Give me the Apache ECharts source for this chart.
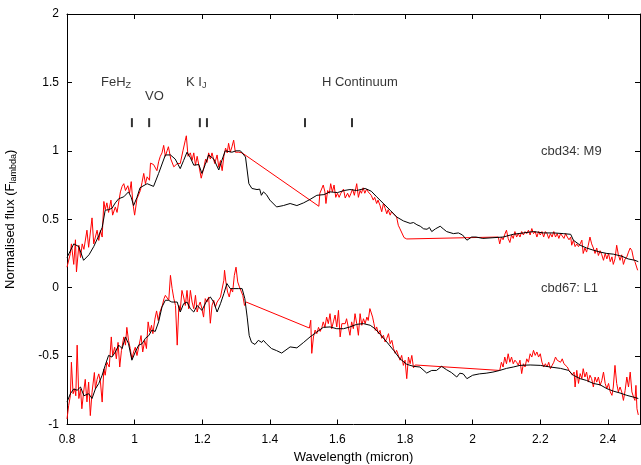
<!DOCTYPE html>
<html>
<head>
<meta charset="utf-8">
<script src="https://cdn.jsdelivr.net/npm/echarts@6/dist/echarts.min.js"></script>
<style>
  html, body { margin: 0; padding: 0; background: #fff; }
  #c { width: 641px; height: 465px; }
</style>
</head>
<body>
<div id="c"></div>
<script>
// Axis ticks
const xTicks = [0.8, 1.0, 1.2, 1.4, 1.6, 1.8, 2.0, 2.2, 2.4];
const yTicks = [-1, -0.5, 0, 0.5, 1, 1.5, 2];

// cbd34 (M9): template spectrum [wavelength micron, normalised flux]
const m9Model = [
  [0.80,0.22],[0.82,0.32],[0.835,0.30],[0.849,0.20],[0.865,0.24],[0.879,0.30],[0.894,0.38],[0.904,0.44],
  [0.913,0.566],[0.923,0.57],[0.933,0.58],[0.943,0.62],[0.953,0.65],[0.968,0.664],[0.982,0.70],[0.99,0.66],
  [0.997,0.60],[1.007,0.66],[1.016,0.73],[1.037,0.76],[1.056,0.74],[1.071,0.835],[1.091,0.97],[1.106,0.97],
  [1.12,0.94],[1.135,0.87],[1.145,0.93],[1.155,0.99],[1.165,0.95],[1.175,0.895],[1.19,0.90],[1.199,0.835],
  [1.209,0.90],[1.219,0.97],[1.234,0.94],[1.249,0.86],[1.258,0.93],[1.268,1.0],[1.288,0.99],[1.30,1.0],
  [1.313,1.0],[1.328,0.955],[1.338,0.76],[1.347,0.725],[1.362,0.717],[1.37,0.72],[1.375,0.675],[1.381,0.70],
  [1.39,0.68],[1.40,0.64],[1.42,0.59],[1.44,0.60],[1.46,0.615],[1.48,0.60],[1.50,0.62],[1.519,0.645],
  [1.539,0.675],[1.56,0.68],[1.578,0.70],[1.60,0.695],[1.62,0.71],[1.637,0.717],[1.657,0.71],[1.682,0.725],
  [1.70,0.705],[1.716,0.664],[1.736,0.615],[1.756,0.566],[1.775,0.517],[1.795,0.488],[1.815,0.47],[1.825,0.476],
  [1.835,0.46],[1.845,0.449],[1.855,0.43],[1.865,0.427],[1.872,0.44],[1.879,0.41],[1.89,0.43],[1.904,0.449],
  [1.913,0.43],[1.923,0.41],[1.943,0.395],[1.958,0.40],[1.97,0.385],[1.983,0.347],[1.997,0.37],[2.01,0.37],
  [2.03,0.36],[2.06,0.365],[2.09,0.37],[2.12,0.39],[2.15,0.40],[2.18,0.41],[2.21,0.40],[2.24,0.40],
  [2.268,0.395],[2.29,0.39],[2.298,0.347],[2.318,0.31],[2.337,0.29],[2.357,0.274],[2.377,0.26],[2.397,0.25],
  [2.416,0.245],[2.441,0.23],[2.46,0.21],[2.48,0.20],[2.49,0.19]
];

// cbd34 (M9): observed spectrum
const m9Spectrum = [
  [0.80,0.15],[0.81,0.25],[0.813,0.32],[0.82,0.17],[0.825,0.35],[0.828,0.115],[0.835,0.31],[0.84,0.22],
  [0.845,0.32],[0.85,0.28],[0.859,0.42],[0.864,0.295],[0.874,0.51],[0.879,0.32],[0.884,0.37],[0.889,0.42],
  [0.894,0.345],[0.899,0.42],[0.904,0.37],[0.909,0.63],[0.913,0.57],[0.918,0.62],[0.923,0.55],[0.93,0.64],
  [0.935,0.53],[0.943,0.59],[0.948,0.55],[0.958,0.70],[0.963,0.74],[0.968,0.76],[0.973,0.71],[0.98,0.745],
  [0.985,0.69],[0.99,0.775],[0.995,0.615],[1.0,0.53],[1.007,0.65],[1.017,0.71],[1.022,0.77],[1.027,0.835],
  [1.032,0.76],[1.037,0.81],[1.044,0.785],[1.047,0.91],[1.056,0.90],[1.066,0.855],[1.071,0.92],[1.076,0.96],
  [1.081,0.985],[1.086,1.04],[1.091,0.96],[1.096,1.0],[1.10,1.03],[1.107,0.94],[1.116,0.883],[1.126,0.907],
  [1.135,0.907],[1.143,1.0],[1.15,1.078],[1.153,1.11],[1.158,0.96],[1.165,0.985],[1.17,0.93],[1.175,0.985],
  [1.18,0.895],[1.185,0.96],[1.19,0.895],[1.197,0.80],[1.205,0.88],[1.21,0.94],[1.214,0.915],[1.219,0.985],
  [1.224,0.94],[1.229,0.985],[1.237,0.907],[1.244,0.97],[1.249,0.88],[1.254,0.93],[1.259,0.855],[1.264,0.96],
  [1.269,1.02],[1.274,0.985],[1.278,1.055],[1.283,0.99],[1.288,1.03],[1.293,1.078],[1.298,0.99],[1.308,0.99],
  [1.318,0.985],[1.323,0.99],
  [1.545,0.595],[1.548,0.69],[1.551,0.68],[1.558,0.75],[1.563,0.70],[1.566,0.615],[1.571,0.71],[1.576,0.69],
  [1.58,0.76],[1.585,0.70],[1.59,0.75],[1.595,0.66],[1.60,0.69],[1.605,0.66],[1.61,0.69],[1.618,0.72],
  [1.623,0.655],[1.63,0.69],[1.635,0.66],[1.64,0.69],[1.645,0.72],[1.65,0.675],[1.657,0.76],[1.662,0.66],
  [1.667,0.71],[1.671,0.69],[1.676,0.73],[1.681,0.69],[1.686,0.72],[1.691,0.70],[1.696,0.71],[1.70,0.675],
  [1.706,0.64],[1.71,0.66],[1.716,0.615],[1.72,0.64],[1.726,0.60],[1.731,0.555],[1.736,0.615],[1.741,0.58],
  [1.746,0.54],[1.75,0.57],[1.756,0.53],[1.76,0.555],[1.766,0.54],[1.775,0.517],[1.78,0.456],[1.785,0.43],
  [1.79,0.42],[1.797,0.366],[1.805,0.356],
  [2.076,0.37],[2.08,0.32],[2.085,0.37],[2.09,0.35],[2.095,0.39],[2.10,0.42],[2.105,0.36],[2.11,0.33],
  [2.115,0.385],[2.12,0.36],[2.125,0.41],[2.13,0.37],[2.135,0.395],[2.14,0.37],[2.145,0.41],[2.15,0.385],
  [2.155,0.41],[2.16,0.395],[2.165,0.42],[2.17,0.385],[2.175,0.432],[2.18,0.395],[2.185,0.41],[2.19,0.37],
  [2.195,0.41],[2.20,0.385],[2.205,0.41],[2.21,0.37],[2.215,0.41],[2.22,0.395],[2.225,0.36],[2.23,0.395],
  [2.235,0.37],[2.24,0.41],[2.245,0.37],[2.25,0.395],[2.255,0.36],[2.26,0.395],[2.265,0.385],[2.27,0.36],
  [2.275,0.395],[2.28,0.37],[2.285,0.35],[2.29,0.37],[2.293,0.31],[2.298,0.347],[2.303,0.30],[2.308,0.32],
  [2.313,0.30],[2.318,0.32],[2.323,0.347],[2.327,0.25],[2.332,0.29],[2.337,0.26],[2.342,0.31],[2.347,0.37],
  [2.352,0.32],[2.357,0.29],[2.362,0.25],[2.367,0.29],[2.372,0.235],[2.377,0.27],[2.382,0.24],[2.387,0.20],
  [2.392,0.25],[2.397,0.21],[2.402,0.25],[2.407,0.19],[2.412,0.225],[2.416,0.17],[2.421,0.21],[2.426,0.31],
  [2.431,0.24],[2.436,0.20],[2.441,0.24],[2.446,0.17],[2.451,0.21],[2.456,0.225],[2.461,0.26],[2.466,0.29],
  [2.471,0.27],[2.476,0.21],[2.48,0.19],[2.485,0.19],[2.488,0.127]
];

// cbd67 (L1): template spectrum
const l1Model = [
  [0.80,-0.836],[0.81,-0.775],[0.82,-0.74],[0.83,-0.75],[0.84,-0.726],[0.85,-0.79],[0.864,-0.775],[0.874,-0.81],
  [0.884,-0.74],[0.894,-0.70],[0.904,-0.64],[0.913,-0.568],[0.923,-0.495],[0.933,-0.507],[0.943,-0.47],[0.953,-0.42],
  [0.963,-0.445],[0.973,-0.36],[0.982,-0.41],[0.992,-0.53],[1.002,-0.47],[1.012,-0.42],[1.022,-0.41],[1.032,-0.37],
  [1.042,-0.35],[1.051,-0.31],[1.061,-0.32],[1.071,-0.25],[1.081,-0.141],[1.091,-0.092],[1.10,-0.092],[1.11,-0.105],
  [1.126,-0.105],[1.135,-0.178],[1.145,-0.117],[1.155,-0.105],[1.165,-0.154],[1.175,-0.178],[1.185,-0.13],[1.199,-0.166],
  [1.214,-0.092],[1.224,-0.068],[1.234,-0.105],[1.244,-0.178],[1.254,-0.117],[1.264,-0.044],[1.273,0.03],[1.283,-0.007],
  [1.293,-0.007],[1.308,-0.007],[1.318,-0.007],[1.326,-0.08],[1.333,-0.215],[1.339,-0.35],[1.346,-0.40],[1.356,-0.415],
  [1.366,-0.385],[1.376,-0.40],[1.381,-0.385],[1.39,-0.41],[1.405,-0.445],[1.42,-0.46],[1.435,-0.478],[1.44,-0.478],
  [1.46,-0.433],[1.48,-0.44],[1.50,-0.40],[1.519,-0.36],[1.539,-0.324],[1.558,-0.29],[1.578,-0.287],[1.598,-0.30],
  [1.618,-0.30],[1.637,-0.287],[1.657,-0.268],[1.677,-0.263],[1.697,-0.275],[1.711,-0.30],[1.726,-0.34],[1.746,-0.397],
  [1.766,-0.458],[1.785,-0.52],[1.805,-0.56],[1.825,-0.575],[1.844,-0.58],[1.864,-0.624],[1.879,-0.605],[1.893,-0.605],
  [1.908,-0.575],[1.923,-0.60],[1.937,-0.62],[1.953,-0.653],[1.962,-0.625],[1.972,-0.63],[1.983,-0.665],[2.0,-0.64],
  [2.02,-0.63],[2.04,-0.625],[2.06,-0.617],[2.08,-0.605],[2.10,-0.59],[2.12,-0.58],[2.14,-0.568],[2.17,-0.565],
  [2.20,-0.568],[2.23,-0.58],[2.26,-0.59],[2.283,-0.604],[2.298,-0.64],[2.318,-0.665],[2.337,-0.678],[2.357,-0.70],
  [2.377,-0.71],[2.397,-0.738],[2.416,-0.756],[2.436,-0.77],[2.456,-0.787],[2.476,-0.80],[2.49,-0.81]
];

// cbd67 (L1): observed spectrum
const l1Spectrum = [
  [0.80,-0.96],[0.805,-0.86],[0.81,-0.79],[0.813,-0.545],[0.818,-0.775],[0.823,-0.74],[0.826,-0.79],[0.83,-0.42],
  [0.835,-0.81],[0.84,-0.74],[0.844,-0.885],[0.849,-0.765],[0.854,-0.67],[0.859,-0.835],[0.864,-0.69],[0.869,-0.935],
  [0.874,-0.765],[0.881,-0.62],[0.884,-0.74],[0.889,-0.67],[0.894,-0.63],[0.899,-0.69],[0.904,-0.836],[0.909,-0.594],
  [0.913,-0.64],[0.918,-0.545],[0.925,-0.58],[0.931,-0.36],[0.935,-0.496],[0.941,-0.435],[0.946,-0.52],[0.951,-0.40],
  [0.956,-0.58],[0.961,-0.46],[0.968,-0.36],[0.973,-0.42],[0.977,-0.29],[0.982,-0.385],[0.987,-0.445],[0.992,-0.52],
  [0.997,-0.47],[1.002,-0.435],[1.007,-0.496],[1.012,-0.435],[1.019,-0.35],[1.024,-0.47],[1.03,-0.385],[1.035,-0.445],
  [1.04,-0.25],[1.045,-0.325],[1.05,-0.275],[1.054,-0.336],[1.06,-0.23],[1.065,-0.17],[1.07,-0.24],[1.075,-0.178],
  [1.082,-0.13],[1.087,-0.08],[1.091,-0.056],[1.096,-0.07],[1.101,-0.092],[1.106,0.09],[1.111,-0.007],[1.116,-0.08],
  [1.121,-0.13],[1.126,-0.42],[1.131,-0.13],[1.135,-0.166],[1.14,-0.02],[1.145,-0.068],[1.15,-0.13],[1.155,-0.02],
  [1.16,-0.154],[1.165,-0.02],[1.17,-0.105],[1.175,-0.154],[1.18,-0.056],[1.185,-0.178],[1.19,-0.13],[1.194,-0.105],
  [1.199,-0.154],[1.204,-0.215],[1.209,-0.08],[1.214,-0.105],[1.219,-0.068],[1.224,-0.26],[1.229,-0.13],[1.234,-0.092],
  [1.239,-0.141],[1.244,-0.105],[1.249,-0.117],[1.254,-0.068],[1.259,-0.056],[1.264,0.054],[1.266,0.127],[1.27,0.042],
  [1.275,-0.032],[1.28,-0.068],[1.285,-0.007],[1.29,-0.032],[1.295,0.09],[1.30,0.15],[1.305,0.042],[1.31,0.006],
  [1.315,-0.007],[1.32,-0.056],[1.325,-0.13],[1.33,-0.105],
  [1.517,-0.295],[1.521,-0.238],[1.524,-0.48],[1.529,-0.36],[1.534,-0.31],[1.539,-0.336],[1.544,-0.29],[1.549,-0.32],
  [1.554,-0.29],[1.558,-0.25],[1.563,-0.29],[1.568,-0.215],[1.573,-0.263],[1.578,-0.19],[1.583,-0.30],[1.588,-0.25],
  [1.593,-0.20],[1.598,-0.287],[1.603,-0.166],[1.608,-0.36],[1.613,-0.263],[1.618,-0.25],[1.623,-0.263],[1.627,-0.227],
  [1.632,-0.287],[1.637,-0.348],[1.642,-0.25],[1.647,-0.30],[1.652,-0.19],[1.657,-0.263],[1.662,-0.348],[1.667,-0.19],
  [1.672,-0.275],[1.677,-0.227],[1.682,-0.263],[1.687,-0.215],[1.691,-0.24],[1.696,-0.153],[1.699,-0.14],[1.704,-0.215],
  [1.708,-0.263],[1.712,-0.312],[1.716,-0.287],[1.721,-0.336],[1.726,-0.312],[1.731,-0.37],[1.736,-0.348],[1.741,-0.397],
  [1.746,-0.37],[1.751,-0.336],[1.756,-0.41],[1.761,-0.385],[1.766,-0.445],[1.771,-0.48],[1.775,-0.458],[1.78,-0.47],
  [1.785,-0.53],[1.79,-0.495],[1.795,-0.568],[1.80,-0.53],[1.805,-0.665],[1.81,-0.507],[1.815,-0.556],[1.82,-0.495],
  [1.825,-0.586],[1.83,-0.565],
  [2.08,-0.605],[2.085,-0.545],[2.09,-0.58],[2.095,-0.507],[2.10,-0.556],[2.105,-0.483],[2.11,-0.545],[2.115,-0.507],
  [2.12,-0.556],[2.125,-0.53],[2.13,-0.545],[2.135,-0.568],[2.14,-0.53],[2.145,-0.628],[2.15,-0.556],[2.155,-0.58],
  [2.16,-0.52],[2.165,-0.545],[2.17,-0.483],[2.175,-0.507],[2.18,-0.458],[2.185,-0.495],[2.19,-0.47],[2.195,-0.507],
  [2.20,-0.483],[2.205,-0.545],[2.21,-0.58],[2.215,-0.556],[2.22,-0.58],[2.225,-0.545],[2.23,-0.592],[2.235,-0.568],
  [2.24,-0.545],[2.245,-0.507],[2.25,-0.53],[2.255,-0.52],[2.26,-0.545],[2.265,-0.52],[2.27,-0.556],[2.275,-0.545],
  [2.28,-0.58],[2.285,-0.604],[2.29,-0.592],[2.295,-0.64],[2.30,-0.617],[2.303,-0.726],[2.308,-0.604],[2.313,-0.70],
  [2.318,-0.628],[2.323,-0.665],[2.327,-0.592],[2.332,-0.653],[2.337,-0.617],[2.342,-0.69],[2.347,-0.64],[2.352,-0.665],
  [2.357,-0.726],[2.362,-0.653],[2.367,-0.69],[2.372,-0.653],[2.377,-0.714],[2.382,-0.678],[2.387,-0.617],[2.392,-0.70],
  [2.397,-0.738],[2.402,-0.70],[2.407,-0.762],[2.412,-0.787],[2.416,-0.726],[2.421,-0.568],[2.426,-0.70],[2.431,-0.762],
  [2.436,-0.726],[2.441,-0.762],[2.446,-0.824],[2.451,-0.75],[2.456,-0.653],[2.461,-0.726],[2.466,-0.617],[2.471,-0.762],
  [2.476,-0.80],[2.48,-0.824],[2.483,-0.714],[2.486,-0.885],[2.49,-0.93]
];

// Absorption feature markers (wavelength) and their labels
const featureMarks = [0.992, 1.043, 1.193, 1.214, 1.504, 1.643];
const featureLabels = [
  { at: [0.9006, 1.503], text: 'FeH{s|Z}' },
  { at: [1.031, 1.397], text: 'VO' },
  { at: [1.152, 1.503], text: 'K I{s|J}' },
  { at: [1.554, 1.503], text: 'H Continuum' }
];
const spectrumLabels = [
  { at: [2.202, 0.994], text: 'cbd34: M9' },
  { at: [2.202, -0.004], text: 'cbd67: L1' }
];

const FONT = 'Liberation Sans, Arial, Helvetica, sans-serif';
const X_MIN = 0.8, X_MAX = 2.495, Y_MIN = -1, Y_MAX = 2;

const tickStyle = { inside: true, length: 5, lineStyle: { color: '#000', width: 1 } };
const lineAxis = { onZero: false, lineStyle: { color: '#000', width: 1 } };

const richText = {
  t: { fontSize: 13, fontFamily: FONT, color: '#000' },
  s: { fontSize: 9, fontFamily: FONT, color: '#000', padding: [7, 0, 0, 0] }
};

function wrapRich(text) {
  // Plain runs go in style "t", subscripts are already marked with {s|...}
  return text.split(/(\{s\|[^}]*\})/).filter(Boolean)
    .map(p => p.startsWith('{s|') ? p : '{t|' + p + '}').join('');
}

function textSeries(items) {
  return {
    type: 'scatter',
    symbolSize: 0,
    silent: true,
    z: 5,
    data: items.map(it => ({ value: it.at, labelText: wrapRich(it.text) })),
    label: {
      show: true,
      position: 'right',
      distance: 0,
      formatter: p => p.data.labelText,
      rich: richText
    }
  };
}

const chart = echarts.init(document.getElementById('c'), null, { renderer: 'canvas' });

chart.setOption({
  animation: false,
  backgroundColor: '#fff',
  grid: { left: 67, right: 1, top: 14, bottom: 40.5, containLabel: false, outerBoundsMode: 'none' },
  xAxis: [
    {
      type: 'value', min: X_MIN, max: X_MAX, interval: 0.2, position: 'bottom',
      axisLine: lineAxis, axisTick: tickStyle, splitLine: { show: false },
      axisLabel: {
        color: '#000', fontSize: 12, fontFamily: FONT, margin: 9,
        formatter: v => xTicks.some(t => Math.abs(t - v) < 1e-6) ? String(+v.toFixed(1)) : ''
      },
      name: 'Wavelength (micron)', nameLocation: 'middle', nameGap: 26,
      nameTextStyle: { color: '#000', fontSize: 13, fontFamily: FONT }
    },
    {
      type: 'value', min: X_MIN, max: X_MAX, interval: 0.2, position: 'top',
      axisLine: lineAxis, axisTick: tickStyle, splitLine: { show: false },
      axisLabel: { show: false }
    }
  ],
  yAxis: [
    {
      type: 'value', min: Y_MIN, max: Y_MAX, interval: 0.5, position: 'left',
      axisLine: lineAxis, axisTick: tickStyle, splitLine: { show: false },
      axisLabel: {
        color: '#000', fontSize: 12, fontFamily: FONT, margin: 8,
        formatter: v => yTicks.some(t => Math.abs(t - v) < 1e-6) ? String(v) : ''
      },
      name: 'Normalised flux (F{s|lambda})', nameLocation: 'middle', nameGap: 49, nameRotate: 90,
      nameTextStyle: {
        color: '#000', fontSize: 13, fontFamily: FONT,
        rich: { s: { fontSize: 9, fontFamily: FONT, color: '#000', padding: [6, 0, 0, 0] } }
      }
    },
    {
      type: 'value', min: Y_MIN, max: Y_MAX, interval: 0.5, position: 'right',
      axisLine: lineAxis, axisTick: tickStyle, splitLine: { show: false },
      axisLabel: { show: false }
    }
  ],
  series: [
    {
      name: 'cbd34 spectrum', type: 'line', data: m9Spectrum, showSymbol: false, symbol: 'none',
      lineStyle: { color: '#ff0000', width: 1 }, z: 2
    },
    {
      name: 'cbd34 template', type: 'line', data: m9Model, showSymbol: false, symbol: 'none',
      lineStyle: { color: '#000000', width: 1 }, z: 3
    },
    {
      name: 'cbd67 spectrum', type: 'line', data: l1Spectrum, showSymbol: false, symbol: 'none',
      lineStyle: { color: '#ff0000', width: 1 }, z: 2
    },
    {
      name: 'cbd67 template', type: 'line', data: l1Model, showSymbol: false, symbol: 'none',
      lineStyle: { color: '#000000', width: 1 }, z: 3
    },
    {
      name: 'features', type: 'scatter', symbol: 'rect', symbolSize: [2, 9], silent: true,
      itemStyle: { color: '#000' },
      data: featureMarks.map(w => [w, 1.206])
    },
    textSeries(featureLabels),
    textSeries(spectrumLabels)
  ]
});
</script>
</body>
</html>
